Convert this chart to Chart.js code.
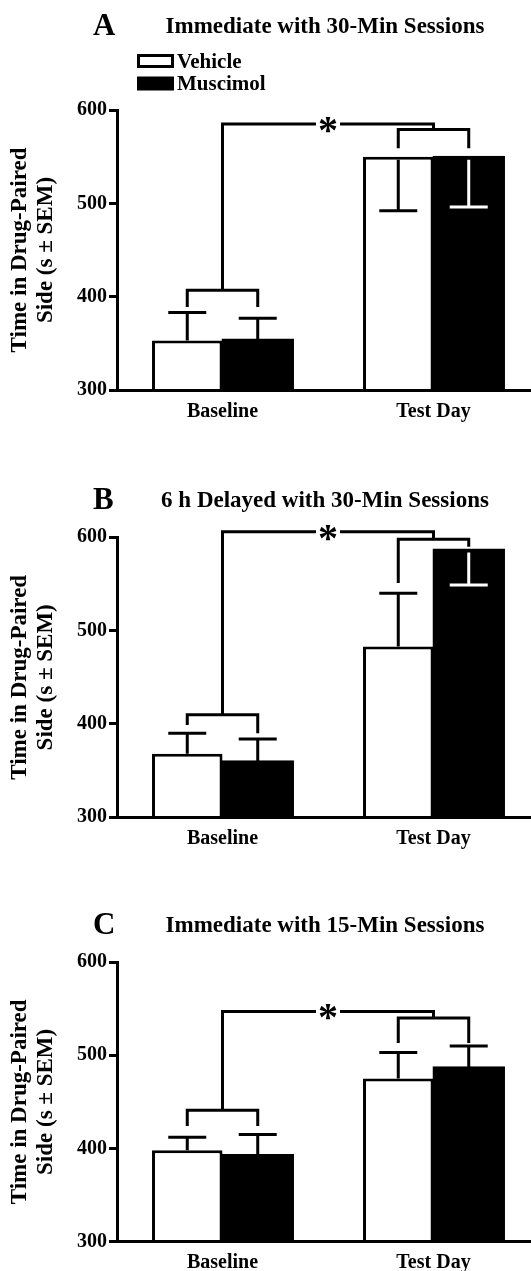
<!DOCTYPE html>
<html>
<head>
<meta charset="utf-8">
<script src="https://cdn.jsdelivr.net/npm/chart.js@4.4.0/dist/chart.umd.min.js"></script>
<style>
  html, body { margin: 0; padding: 0; background: #fff; overflow: hidden; }
  #page { position: relative; width: 531px; height: 1271px; overflow: hidden; background: #fff; }
  #page canvas { position: absolute; left: 0; }
</style>
</head>
<body>
<div id="page">
  <canvas id="chartA" width="539" height="428" style="top:0px"></canvas>
  <canvas id="chartB" width="539" height="425" style="top:428px"></canvas>
  <canvas id="chartC" width="539" height="418" style="top:853px"></canvas>
</div>
<script>
const categories = ['Baseline', 'Test Day'];
const groups = ['Vehicle', 'Muscimol'];
const yTicks = [300, 400, 500, 600];

// A - immediate, 30 min sessions
const vehicleA = [353, 550];
const muscimolA = [354, 550];
const vehicleErrA = [30, -58];   // SEM, sign = side the bar is drawn on
const muscimolErrA = [23, -54];
const bracketBaseA = [407, 389, 389]; // level, left leg end, right leg end
const bracketTestA = [579, 559, 559];
const bracketTopA = 585;

// B - 6 h delayed, 30 min sessions
const vehicleB = [368, 483];
const muscimolB = [360, 587];
const vehicleErrB = [22, 57];
const muscimolErrB = [24, -38];
const bracketBaseB = [410, 399, 390];
const bracketTestB = [598, 551, 590];
const bracketTopB = 606;

// C - immediate, 15 min sessions
const vehicleC = [398, 475];
const muscimolC = [393, 487];
const vehicleErrC = [14, 28];
const muscimolErrC = [22, 23];
const bracketBaseC = [441, 424, 424];
const bracketTestC = [540, 513, 513];
const bracketTopC = 547;

const serif = '"Liberation Serif", "Times New Roman", serif';

function panelExtras(p) {
  return {
    id: 'panelExtras',
    afterDatasetsDraw(chart) {
      const ctx = chart.ctx;
      const y = chart.scales.y;
      const px = v => y.getPixelForValue(v);
      const metas = [chart.getDatasetMeta(0), chart.getDatasetMeta(1)];
      const errs = [p.vehicleErr, p.muscimolErr];

      ctx.save();
      ctx.lineWidth = 3;
      ctx.lineCap = 'butt';
      ctx.lineJoin = 'miter';

      // one-sided error bars
      metas.forEach((meta, d) => {
        meta.data.forEach((bar, i) => {
          const v = chart.data.datasets[d].data[i];
          const e = errs[d][i];
          const y0 = px(v);
          const y1 = px(v + e);
          ctx.strokeStyle = (e < 0 && d === 1) ? '#fff' : '#000';
          ctx.beginPath();
          ctx.moveTo(bar.x, e < 0 ? y0 + 3 : y0);
          ctx.lineTo(bar.x, y1);
          ctx.moveTo(bar.x - 19, y1);
          ctx.lineTo(bar.x + 19, y1);
          ctx.stroke();
        });
      });

      // significance brackets
      ctx.strokeStyle = '#000';
      const centers = [0, 1].map(i => (metas[0].data[i].x + metas[1].data[i].x) / 2);
      [p.bracketBase, p.bracketTest].forEach((b, i) => {
        const xl = metas[0].data[i].x, xr = metas[1].data[i].x;
        ctx.beginPath();
        ctx.moveTo(xl, px(b[1]));
        ctx.lineTo(xl, px(b[0]));
        ctx.lineTo(xr, px(b[0]));
        ctx.lineTo(xr, px(b[2]));
        ctx.stroke();
      });
      const yTop = px(p.bracketTop);
      const xm = (centers[0] + centers[1]) / 2;
      ctx.beginPath();
      ctx.moveTo(centers[0], px(p.bracketBase[0]));
      ctx.lineTo(centers[0], yTop);
      ctx.lineTo(xm - 12, yTop);
      ctx.moveTo(xm + 12, yTop);
      ctx.lineTo(centers[1], yTop);
      ctx.lineTo(centers[1], px(p.bracketTest[0]));
      ctx.stroke();

      ctx.font = 'bold 40px ' + serif;
      ctx.fillStyle = '#000';
      ctx.textAlign = 'center';
      ctx.textBaseline = 'alphabetic';
      const m = ctx.measureText('*');
      ctx.fillText('*', xm, yTop + 1 + (m.actualBoundingBoxAscent - m.actualBoundingBoxDescent) / 2);
      ctx.restore();
    },
    afterDraw(chart) {
      const ctx = chart.ctx;
      ctx.save();
      ctx.fillStyle = '#000';
      ctx.textBaseline = 'alphabetic';
      ctx.textAlign = 'left';
      ctx.font = 'bold 31px ' + serif;
      ctx.fillText(p.letter, 93, p.letterY);
      ctx.textAlign = 'center';
      ctx.font = 'bold 23px ' + serif;
      ctx.fillText(p.title, 325, p.titleY);

      if (p.legend) {
        ctx.textAlign = 'left';
        ctx.font = 'bold 21px ' + serif;
        chart.data.datasets.forEach((ds, i) => {
          const top = 54 + i * 22.5;
          ctx.fillStyle = '#000';
          ctx.fillRect(137, top, 37, 14);
          if (ds.backgroundColor !== '#000') {
            ctx.fillStyle = ds.backgroundColor;
            ctx.fillRect(140, top + 3, 31, 8);
          }
          ctx.fillStyle = '#000';
          ctx.fillText(ds.label, 177, top + 13.5);
        });
      }
      ctx.restore();
    }
  };
}

function buildChart(id, p) {
  const canvas = document.getElementById(id);
  const tickFont = { family: serif, size: 20, weight: 'bold' };
  return new Chart(canvas, {
    type: 'bar',
    data: {
      labels: categories,
      datasets: [
        { label: groups[0], data: p.vehicle, backgroundColor: '#fff', borderColor: '#000',
          borderWidth: 3, categoryPercentage: 0.668, barPercentage: 1, inflateAmount: 0 },
        { label: groups[1], data: p.muscimol, backgroundColor: '#000', borderColor: '#000',
          borderWidth: 3, categoryPercentage: 0.668, barPercentage: 1, inflateAmount: 1 }
      ]
    },
    options: {
      responsive: false,
      animation: false,
      layout: { padding: { top: p.plotTop, left: 0, right: 0, bottom: 0 } },
      plugins: {
        legend: { display: false },
        title: { display: false },
        tooltip: { enabled: false }
      },
      scales: {
        x: {
          grid: { display: false, drawTicks: false },
          border: { display: true, color: '#000', width: 3, z: 1 },
          ticks: { color: '#000', font: tickFont, padding: 9.5, autoSkip: false, maxRotation: 0 },
          afterFit: s => { s.height = canvas.height - p.plotBottom; }
        },
        y: {
          min: yTicks[0],
          max: yTicks[yTicks.length - 1],
          ticks: { stepSize: 100, color: '#000', font: tickFont, padding: 2 },
          grid: { drawOnChartArea: false, drawTicks: true, tickLength: 8, lineWidth: 3, color: '#000' },
          border: { display: true, color: '#000', width: 3, z: 1 },
          title: {
            display: true,
            text: ['Time in Drug-Paired', 'Side (s \u00b1 SEM)'],
            color: '#000',
            font: { family: serif, size: 23, weight: 'bold', lineHeight: 1.1 },
            padding: { top: 7.7, bottom: 0 }
          },
          afterFit: s => { s.width = 117; }
        }
      }
    },
    plugins: [panelExtras(p)]
  });
}

buildChart('chartA', {
  letter: 'A', title: 'Immediate with 30-Min Sessions', letterY: 35, titleY: 33.3, legend: true,
  plotTop: 110, plotBottom: 390,
  vehicle: vehicleA, muscimol: muscimolA, vehicleErr: vehicleErrA, muscimolErr: muscimolErrA,
  bracketBase: bracketBaseA, bracketTest: bracketTestA, bracketTop: bracketTopA
});

buildChart('chartB', {
  letter: 'B', title: '6 h Delayed with 30-Min Sessions', letterY: 81.3, titleY: 78.7, legend: false,
  plotTop: 109.3, plotBottom: 389.3,
  vehicle: vehicleB, muscimol: muscimolB, vehicleErr: vehicleErrB, muscimolErr: muscimolErrB,
  bracketBase: bracketBaseB, bracketTest: bracketTestB, bracketTop: bracketTopB
});

buildChart('chartC', {
  letter: 'C', title: 'Immediate with 15-Min Sessions', letterY: 81, titleY: 78.7, legend: false,
  plotTop: 109, plotBottom: 388.7,
  vehicle: vehicleC, muscimol: muscimolC, vehicleErr: vehicleErrC, muscimolErr: muscimolErrC,
  bracketBase: bracketBaseC, bracketTest: bracketTestC, bracketTop: bracketTopC
});
</script>
</body>
</html>
